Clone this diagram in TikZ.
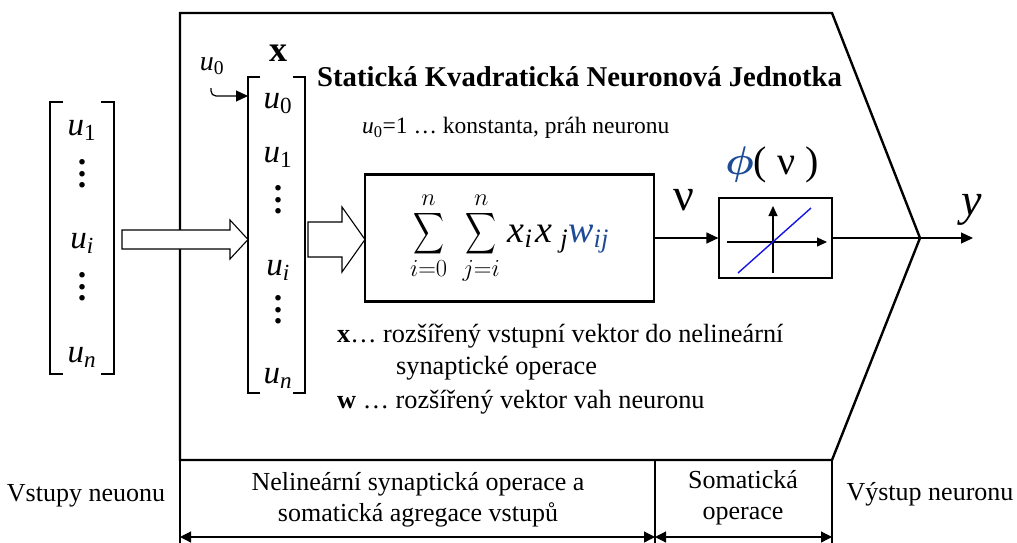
\RequirePackage{fix-cm}
\documentclass[tikz,border=0pt]{standalone}
\usepackage{exscale}
\usepackage{fontspec}
\setmainfont{Liberation Serif}
\usetikzlibrary{arrows.meta}
\definecolor{wblue}{RGB}{30,75,150}
\definecolor{lineblue}{RGB}{20,20,230}
\newcommand{\fsz}[2]{\fontsize{#1}{#2}\selectfont}
\newcommand{\bigsum}{\mathop{\vcenter{\hbox{\scalebox{0.86}[1.16]{$\displaystyle\sum$}}}}\limits}
\newcommand{\uu}[1]{\textit{u}\textsubscript{#1}}
\begin{document}
\begin{tikzpicture}[x=1pt,y=-1pt,
  thickline/.style={line width=2.4pt},
  thinline/.style={line width=1.2pt},
  tri/.style={-{Triangle[length=12pt,width=11pt]}},
  dtri/.style={{Triangle[length=11pt,width=11pt]}-{Triangle[length=11pt,width=11pt]}},
  mth/.style={inner sep=0pt,font=\fsz{33}{38}},
  dots/.style={inner sep=0pt,align=center,font=\fsz{34}{11.5}\bfseries},
  body/.style={inner sep=0pt,anchor=west,font=\fsz{26.3}{31}},
  bottomtxt/.style={inner sep=0pt,align=center,font=\fsz{26}{31}},
  hollow/.style={draw,line width=1.1pt,fill=white}]
\useasboundingbox (0,0) rectangle (1017,543);
% outer neuron shape
\coordinate (tl) at (180,13);
\coordinate (tr) at (832,13);
\coordinate (junc) at (920,238);
\coordinate (br) at (832,460);
\coordinate (bl) at (180,460);
\draw[thickline,line join=miter] (tl) -- (tr) -- (junc) -- (br) -- (bl) -- cycle;
% bottom dividers
\coordinate (b1) at (180,543);
\coordinate (m0) at (655,460);
\coordinate (m1) at (655,543);
\coordinate (r1) at (832,543);
\draw[thinline] (bl) -- (b1);
\draw[thinline] (m0) -- (m1);
\draw[thinline] (br) -- (r1);
\coordinate (a1) at (180,537);
\coordinate (a2) at (655,537);
\coordinate (a3) at (832,537);
\draw[thinline,dtri] (a1) -- (a2);
\draw[thinline,dtri] (a2) -- (a3);
% bottom texts
\node[bottomtxt] (t1) at (86,496) {Vstupy neuonu};
\node[bottomtxt] (t2) at (418,500) {Nelineární synaptická operace a\\somatická agregace vstupů};
\node[bottomtxt] (t3) at (743,498) {Somatická\\operace};
\node[bottomtxt] (t4) at (930,494) {Výstup neuronu};
% left input vector
\draw[thinline] (63,102) -- (50,102) -- (50,374) -- (63,374);
\draw[thinline] (101,102) -- (114,102) -- (114,374) -- (101,374);
\node[mth] (u1) at (82,130) {\uu{1}};
\node[dots] (d1) at (82,174) {.\\.\\.};
\node[dots] (d2) at (82,287) {.\\.\\.};
\node[mth] (ui) at (82,243) {\uu{\textit{i}}};
\node[mth] (un) at (82,357) {\uu{\textit{n}}};
% hollow arrow 1
\draw[hollow] (122,230) -- (230,230) -- (230,220) -- (248,239.5) -- (230,259) -- (230,249) -- (122,249) -- cycle;
% extended vector x
\draw[thinline] (260,77) -- (248,77) -- (248,393) -- (260,393);
\draw[thinline] (293,77) -- (305,77) -- (305,393) -- (293,393);
\node[inner sep=0pt,font=\fsz{36}{40}\bfseries] (xlab) at (278,53) {x};
\node[inner sep=0pt,font=\fsz{28}{32}] (u0lab) at (212,66) {\uu{0}};
\node[mth] (x0) at (278,104) {\uu{0}};
\node[mth] (x1) at (278,157) {\uu{1}};
\node[dots] (xd1) at (278,200) {.\\.\\.};
\node[mth] (xi) at (278,270) {\uu{\textit{i}}};
\node[dots] (xd2) at (278,310) {.\\.\\.};
\node[mth] (xn) at (278,378) {\uu{\textit{n}}};
\coordinate (hookstart) at (211,88);
\coordinate (xin) at (248,96);
\draw[thinline,tri,rounded corners=5pt] (hookstart) |- (xin);
% title and note
\node[inner sep=0pt,anchor=west,font=\fsz{28.7}{33}\bfseries] (title) at (317,77) {Statická Kvadratická Neuronová Jednotka};
\node[inner sep=0pt,anchor=west,font=\fsz{23.5}{27}] (note) at (362,128) {\uu{0}=1 \dots\ konstanta, práh neuronu};
% hollow arrow 2
\draw[hollow] (308,222) -- (342,222) -- (342,207) -- (365,239.5) -- (342,272) -- (342,257) -- (308,257) -- cycle;
% sum box
\node[draw,thickline,minimum width=289pt,minimum height=127pt,inner sep=0pt,font=\fsz{35}{38}] (sumbox) at (509.5,238) {$\bigsum_{i=0}^{n}\;\bigsum_{j=i}^{n}$\hspace{8pt}{\fsz{38}{40}\textit{x}\textsubscript{\textit{i}}\hspace{3pt}\textit{x}\textsubscript{\hspace{8pt}\textit{j}}{\color{wblue}\textit{w}\textsubscript{\textit{ij}}}}};
% phi box
\node[draw,thinline,minimum width=113pt,minimum height=80pt,inner sep=0pt] (phibox) at (775.5,238) {};
\coordinate (hx0) at (727,242);
\coordinate (hx1) at (827,242);
\coordinate (vy0) at (773,273);
\coordinate (vy1) at (773,206);
\draw[thinline,-{Triangle[length=10pt,width=9pt]}] (hx0) -- (hx1);
\draw[thinline,-{Triangle[length=10pt,width=9pt]}] (vy0) -- (vy1);
\coordinate (bl0) at (738,273);
\coordinate (bl1) at (811,208);
\draw[line width=1.4pt,lineblue] (bl0) -- (bl1);
\node[inner sep=0pt,font=\fsz{40}{44}] (philab) at (772,165) {{\boldmath\color{wblue}$\phi$}( ν )};
\node[inner sep=0pt,font=\fsz{46}{50}] (nulab) at (684,200) {ν};
% connectors
\draw[thinline,tri] (sumbox.east) -- (phibox.west);
\draw[thinline] (phibox.east) -- (junc);
\coordinate (yend) at (973,238);
\draw[thinline,tri] (junc) -- (yend);
\node[inner sep=0pt,font=\fsz{46}{50}] (ylab) at (972,210) {\textit{y}};
% explanation texts
\node[body] (e1) at (337,336) {\textbf{x}\dots\ rozšířený vstupní vektor do nelineární};
\node[body] (e2) at (396,368) {synaptické operace};
\node[body] (e3) at (337,402) {\textbf{w} \dots\ rozšířený vektor vah neuronu};
\end{tikzpicture}
\end{document}
